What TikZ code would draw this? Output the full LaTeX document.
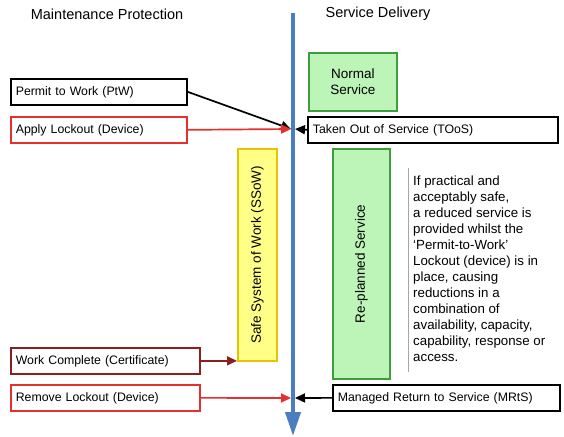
\documentclass[tikz,border=0pt]{standalone}
\usepackage{fontspec}
\setmainfont{Liberation Sans}
\usetikzlibrary{arrows.meta}
\definecolor{axisblue}{HTML}{4A7EBF}
\definecolor{lockred}{HTML}{E53030}
\definecolor{darkred}{HTML}{8B1E1E}
\definecolor{greenfill}{HTML}{BDF4B8}
\definecolor{greenline}{HTML}{3E9E3E}
\definecolor{yellowfill}{HTML}{FFFF88}
\definecolor{yellowline}{HTML}{E8C400}
\tikzset{
  box/.style={draw=black, line width=1.7pt, fill=white, rectangle, minimum height=26pt,
    inner xsep=5pt, inner ysep=0pt, align=left, anchor=north west, font=\fontsize{12.3}{14}\selectfont},
  redbox/.style={box, draw=lockred},
  darkbox/.style={box, draw=darkred},
  greenbox/.style={draw=greenline, line width=1.7pt, fill=greenfill, rectangle, anchor=north west,
    inner sep=0pt, align=center, font=\fontsize{13.5}{16}\selectfont},
  yellowbox/.style={draw=yellowline, line width=1.7pt, fill=yellowfill, rectangle, anchor=north west,
    inner sep=0pt, font=\fontsize{13.5}{16}\selectfont},
  header/.style={font=\fontsize{14.5}{17}\selectfont, inner sep=0pt},
  conn/.style={line width=1.7pt, -{Triangle[length=10pt,width=9pt]}},
}
\begin{document}
\begin{tikzpicture}[x=1pt,y=-1pt]
\useasboundingbox (0,0) rectangle (564,436);
% headers
\node[header] (hmp) at (107,14) {Maintenance Protection};
\node[header] (hsd) at (378,14) {Service Delivery};
% axis
\coordinate (axtop) at (293,13);
\coordinate (axbot) at (293,436);
\draw[axisblue, line width=4pt, -{Triangle[length=24pt,width=15pt]}] (axtop) -- (axbot);
% left boxes
\node[box, text width=166pt] (ptw) at (10,78) {Permit to Work (PtW)};
\node[redbox, text width=166pt] (lock) at (10,116) {Apply Lockout (Device)};
\node[darkbox, text width=179pt] (wc) at (10,347) {Work Complete (Certificate)};
\node[redbox, text width=179pt] (rl) at (10,384) {Remove Lockout (Device)};
% right boxes
\node[greenbox, minimum width=88pt, minimum height=58pt] (ns) at (308,52) {Normal\\Service};
\node[box, text width=240pt] (toos) at (307,116) {Taken Out of Service (TOoS)};
\node[box, text width=217pt] (mrts) at (332,384) {Managed Return to Service (MRtS)};
% vertical boxes
\node[yellowbox, minimum width=39pt, minimum height=212pt] (ssow) at (237,148) {};
\node[rotate=90, font=\fontsize{13.5}{16}\selectfont, inner sep=0pt] (ssowt) at (ssow.center) {Safe System of Work (SSoW)};
\node[greenbox, minimum width=57pt, minimum height=230pt] (rps) at (332,148) {};
\node[rotate=90, font=\fontsize{13.5}{16}\selectfont, inner sep=0pt] (rpst) at (rps.center) {Re-planned Service};
% description
\coordinate (gl1) at (408,168);
\coordinate (gl2) at (408,372);
\draw[black!35, line width=1pt] (gl1) -- (gl2);
\node[anchor=north west, inner sep=0pt, align=left, font=\fontsize{13.3}{16}\selectfont] (desc) at (413,176)
{If practical and\\acceptably safe,\\a reduced service is\\provided whilst the\\‘Permit-to-Work’\\Lockout (device) is in\\place, causing\\reductions in a\\combination of\\availability, capacity,\\capability, response or\\access.};
% connectors
\coordinate (j1l) at (291,129);
\coordinate (j1r) at (295,129);
\coordinate (j2l) at (291,398);
\coordinate (j2r) at (295,398);
\draw[conn, black] (ptw.east) -- (j1l);
\draw[conn, lockred] (lock.east) -- (j1l);
\draw[conn, black] (toos.west) -- (j1r);
\draw[conn, darkred] (wc.east) -- (wc.east -| ssow.west);
\draw[conn, lockred] (rl.east) -- (j2l);
\draw[conn, black] (mrts.west) -- (j2r);
\end{tikzpicture}
\end{document}
